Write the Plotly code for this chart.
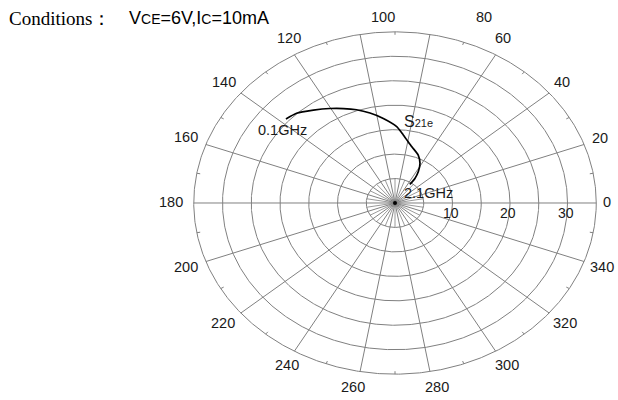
import numpy as np
import plotly.graph_objects as go

# ---------------- data ----------------
s21_angle_deg = [137.8, 133.0, 126.8, 120.4, 114.9, 109.3, 103.3, 96.7,
                 88.9, 84.1, 75.9, 67.6, 61.8, 57.7, 55.4, 56.0]
s21_magnitude = [25.6, 25.1, 23.7, 22.4, 21.3, 20.2, 18.9, 17.4,
                 15.6, 14.0, 11.9, 10.6, 9.2, 7.6, 6.1, 4.6]
freq_start_label = "0.1GHz"
freq_end_label = "2.1GHz"
series_label = "S<span style='font-size:11px'>21e</span>"
ring_values = [5, 10, 15, 20, 25, 30, 35]
radial_tick_values = [10, 20, 30]
radial_tick_labels = ["10", "20", "30"]
angle_major = list(range(0, 360, 20))
angle_minor = list(range(10, 360, 20))
angle_tick_labels = [str(a) for a in angle_major]
R_MAX = 35

# ---------------- layout constants (pixels) ----------------
W, H = 618, 400
CX, CY = 395.0, 203.0      # centre of the chart
SX, SY = 5.75, 4.89        # pixels per unit, horizontal / vertical
PAD = 35.6                 # axis half-range in units
# label pixel centres for angle labels (same order as angle_major)
angle_label_px = [(607, 202), (600, 138), (562, 82), (503, 38), (484, 17),
                  (383, 17), (289, 38), (224, 82), (186, 137), (171, 202),
                  (186, 267), (223, 323), (287, 365), (353, 387), (437, 387),
                  (507, 365), (565, 323), (602, 267)]

GRID = "#808080"
TXT = "#1a1a1a"

def pol2xy(r, deg):
    t = np.deg2rad(np.asarray(deg, dtype=float))
    r = np.asarray(r, dtype=float)
    return r * np.cos(t), r * np.sin(t)

fig = go.Figure()

# rings + major spokes + outer minor ticks
gx, gy = [], []
th = np.linspace(0, 360, 721)
for rv in ring_values:
    x, y = pol2xy(np.full_like(th, rv), th)
    gx += list(x) + [None]
    gy += list(y) + [None]
for a in angle_major:
    x, y = pol2xy([0, R_MAX], [a, a])
    gx += list(x) + [None]
    gy += list(y) + [None]
for a in angle_minor:
    x, y = pol2xy([R_MAX, R_MAX - 0.6], [a, a])
    gx += list(x) + [None]
    gy += list(y) + [None]

fig.add_trace(go.Scatter(x=gx, y=gy, mode="lines",
                         line=dict(color=GRID, width=1),
                         hoverinfo="skip", showlegend=False))

# minor spokes inside first ring
mx, my = [], []
for a in angle_minor:
    x, y = pol2xy([0, ring_values[0]], [a, a])
    mx += list(x) + [None]
    my += list(y) + [None]
fig.add_trace(go.Scatter(x=mx, y=my, mode="lines",
                         line=dict(color=GRID, width=0.8),
                         hoverinfo="skip", showlegend=False))

# centre dot
fig.add_trace(go.Scatter(x=[0], y=[0], mode="markers",
                         marker=dict(color="black", size=4),
                         hoverinfo="skip", showlegend=False))

# S21e curve
cx_, cy_ = pol2xy(s21_magnitude, s21_angle_deg)
fig.add_trace(go.Scatter(x=cx_, y=cy_, mode="lines",
                         line=dict(color="black", width=1.7, shape="spline",
                                   smoothing=0.6),
                         showlegend=False))

ann = []
font_lbl = dict(family="Liberation Sans, Arial", size=14.5, color=TXT)

def paper(px, py):
    return px / W, 1 - py / H

for lab, (px, py) in zip(angle_tick_labels, angle_label_px):
    x, y = paper(px, py)
    ann.append(dict(x=x, y=y, xref="paper", yref="paper", text=lab,
                    showarrow=False, font=font_lbl,
                    xanchor="center", yanchor="middle"))

for rv, lab in zip(radial_tick_values, radial_tick_labels):
    ann.append(dict(x=rv - 0.3, y=-2.1, xref="x", yref="y", text=lab,
                    showarrow=False, font=dict(font_lbl, size=14),
                    xanchor="center", yanchor="middle"))

# frequency labels
x, y = paper(282, 130)
ann.append(dict(x=x, y=y, xref="paper", yref="paper", text=freq_start_label,
                showarrow=False, font=font_lbl, xanchor="center", yanchor="middle"))
x, y = paper(428, 193)
ann.append(dict(x=x, y=y, xref="paper", yref="paper", text=freq_end_label,
                showarrow=False, font=font_lbl, xanchor="center", yanchor="middle"))
x, y = paper(402, 122)
ann.append(dict(x=x, y=y, xref="paper", yref="paper", text=series_label,
                showarrow=False, font=dict(font_lbl, size=16),
                xanchor="left", yanchor="middle"))

# header
x, y = paper(7, 18)
ann.append(dict(x=x, y=y, xref="paper", yref="paper", text="Conditions：",
                showarrow=False,
                font=dict(family="Liberation Serif, Times New Roman", size=19, color="black"),
                xanchor="left", yanchor="middle"))
x, y = paper(127, 18)
ann.append(dict(x=x, y=y, xref="paper", yref="paper",
                text="V<span style='font-size:14px'>CE</span>=6V,I<span style='font-size:14px'>C</span>=10mA",
                showarrow=False,
                font=dict(family="Liberation Sans, Arial", size=18, color="black"),
                xanchor="left", yanchor="middle"))

x0 = (CX - PAD * SX) / W
x1 = (CX + PAD * SX) / W
y0 = 1 - (CY + PAD * SY) / H
y1 = 1 - (CY - PAD * SY) / H

fig.update_layout(
    width=W, height=H, autosize=False,
    margin=dict(l=0, r=0, t=0, b=0, pad=0),
    paper_bgcolor="white", plot_bgcolor="white",
    xaxis=dict(range=[-PAD, PAD], domain=[x0, x1], visible=False, fixedrange=True),
    yaxis=dict(range=[-PAD, PAD], domain=[y0, y1], visible=False, fixedrange=True),
    annotations=ann,
    showlegend=False,
)

fig.write_html("out.html",
               config={"displayModeBar": False},
               post_script="document.body.style.margin='0px';document.body.style.overflow='hidden';")
